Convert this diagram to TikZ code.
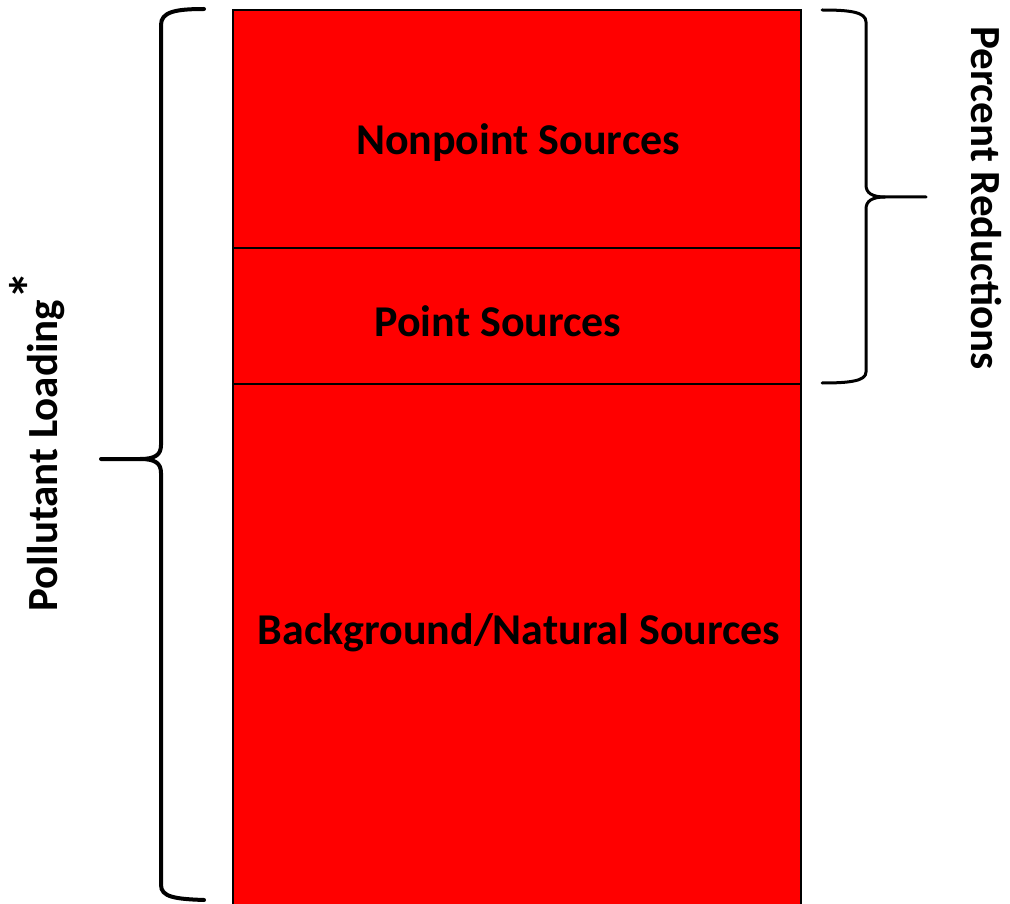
\documentclass[tikz,border=0pt]{standalone}
\usepackage{fontspec}
\setmainfont{Carlito}
\begin{document}
\begin{tikzpicture}[x=1pt,y=-1pt,
  block/.style={draw=black,line width=1.5pt,fill=red,minimum width=568pt,inner sep=0pt,outer sep=0pt},
  blocklabel/.style={font=\bfseries\fontsize{44}{48}\selectfont,text=black},
  sidelabel/.style={font=\bfseries\fontsize{43}{48}\selectfont,text=black},
  bracel/.style={line width=4pt,line cap=round},
  bracer/.style={line width=3pt,line cap=round}]
\useasboundingbox (0,0) rectangle (1010,904);
% stacked load blocks
\node[block,minimum height=238pt,anchor=north west] (nps) at (233,10) {};
\node[block,minimum height=136pt,anchor=north west] (ps) at (233,248) {};
\node[block,minimum height=540pt,anchor=north west] (bg) at (233,384) {};
\node[blocklabel] at (518,143) {Nonpoint Sources};
\node[blocklabel] at (498,321) {Point Sources};
\node[blocklabel] at (519,633) {Background/Natural Sources};
% left brace spanning the whole load
\draw[bracel] (204,9) .. controls (175,9) and (161,12) .. (161,25) -- (161,445)
  .. controls (161,455) and (155,459) .. (140,459) -- (101,459);
\draw[bracel] (140,459) .. controls (155,459) and (161,463) .. (161,473) -- (161,885)
  .. controls (161,897) and (175,899) .. (204,900);
% right brace over the reducible part
\draw[bracer] (822,10) .. controls (850,10) and (866,12) .. (866,22) -- (866,185)
  .. controls (866,193) and (872,197) .. (885,197) -- (926,197);
\draw[bracer] (885,197) .. controls (872,197) and (866,201) .. (866,209) -- (866,372)
  .. controls (866,381) and (850,383) .. (822,383);
\node[sidelabel,rotate=90,anchor=west] (load) at (37,615)
  {Pollutant Loading\raisebox{0.17em}{\fontsize{56}{60}\selectfont*}};
\node[sidelabel,rotate=-90] (red) at (986,198) {Percent Reductions};
\end{tikzpicture}
\end{document}
